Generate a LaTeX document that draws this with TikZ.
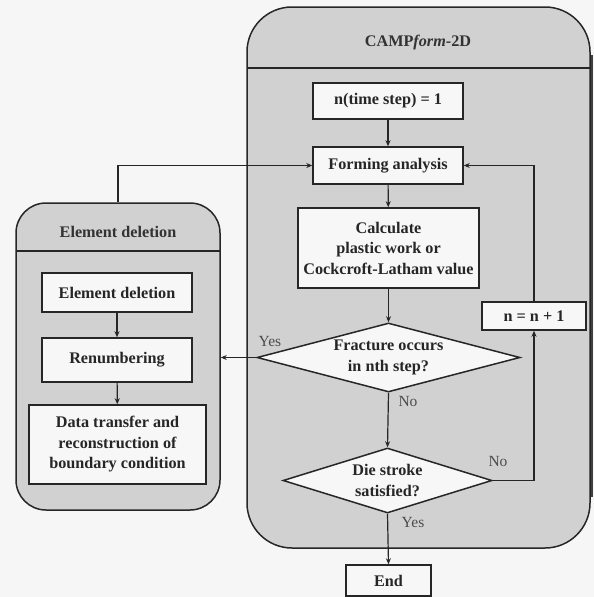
\documentclass[tikz,border=0pt]{standalone}
\usepackage{fontspec}
\setmainfont{Liberation Serif}
\usetikzlibrary{shapes.geometric,arrows.meta}
\definecolor{bgc}{rgb}{0.965,0.965,0.965}
\definecolor{contc}{rgb}{0.82,0.82,0.82}
\definecolor{boxc}{rgb}{0.97,0.97,0.97}
\definecolor{linec}{rgb}{0.15,0.15,0.15}
\definecolor{lblc}{rgb}{0.3,0.3,0.3}
\begin{document}
\begin{tikzpicture}[x=1pt,y=-1pt,
  cont/.style={draw=linec, line width=1.5pt, fill=contc, inner sep=0pt},
  box/.style={draw=linec, line width=1.5pt, fill=boxc, inner sep=0pt, align=center,
    font=\bfseries\fontsize{16.2}{20.5}\selectfont, text=black!85},
  dia/.style={diamond, draw=linec, line width=1.5pt, fill=boxc, inner sep=0pt, align=center,
    font=\bfseries\fontsize{16.2}{20.5}\selectfont, text=black!85},
  ttl/.style={font=\bfseries\fontsize{16.2}{20.5}\selectfont, text=black!80},
  lbl/.style={font=\fontsize{15.5}{18}\selectfont, text=lblc},
  conn/.style={draw=linec, line width=1.2pt},
  arr/.style={conn, -{Stealth[length=6pt,width=5pt]}}
]
\fill[bgc] (0,0) rectangle (594,597);
\useasboundingbox (0,0) rectangle (594,597);

% shadow on right edge of main container
\draw[line width=3pt, black!75] (591,55) -- (591,497);

% containers
\node[cont, rounded corners=45pt, minimum width=343pt, minimum height=541pt] (mainc) at (418.5,277.5) {};
\draw[linec, line width=1.5pt] (247,68) -- (590,68);
\node[ttl] (maint) at (418,43) {CAMP\textit{form}-2D};

\node[cont, rounded corners=30pt, minimum width=204pt, minimum height=307pt] (leftc) at (118,356.5) {};
\draw[linec, line width=1.5pt] (16,251) -- (220,251);
\node[ttl] (leftt) at (118,232) {Element deletion};

% main flow
\node[box, minimum width=150pt, minimum height=36pt] (n1) at (388,101) {n(time step) = 1};
\node[box, minimum width=150pt, minimum height=37pt] (fa) at (388,165.5) {Forming analysis};
\node[box, minimum width=181pt, minimum height=80pt] (calc) at (388.5,248) {Calculate\\plastic work or\\Cockcroft-Latham value};
\node[dia, shape aspect=3.8, minimum width=263pt, minimum height=69pt] (frac) at (388.5,357.5) {Fracture occurs\\in nth step?};
\node[dia, shape aspect=3.2, minimum width=209pt, minimum height=65pt] (die) at (387.5,480.5) {Die stroke\\satisfied?};
\node[box, minimum width=104pt, minimum height=28pt] (inc) at (534,316) {n = n + 1};
\node[box, minimum width=85pt, minimum height=31pt] (endb) at (388.5,580.5) {End};

% left flow
\node[box, minimum width=150pt, minimum height=39pt] (ed) at (117,292.5) {Element deletion};
\node[box, minimum width=150pt, minimum height=44pt] (ren) at (117,360) {Renumbering};
\node[box, minimum width=177pt, minimum height=79pt] (dt) at (117.5,444.5) {Data transfer and\\reconstruction of\\boundary condition};

% labels
\node[lbl] (lyes1) at (270,341) {Yes};
\node[lbl] (lno1) at (408,401) {No};
\node[lbl] (lno2) at (498,461) {No};
\node[lbl] (lyes2) at (413,522) {Yes};

% connectors
\draw[arr] (n1) -- (fa);
\draw[arr] (fa) -- (calc);
\draw[arr] (calc) -- (frac);
\draw[arr] (frac.south) -- (die.north);
\draw[arr] (die.south) -- (endb.north);
\draw[arr] (die.east) -- (inc.south |- die.east) -- (inc.south);
\draw[arr] (inc.north) -- (inc.north |- fa.east) -- (fa.east);
\draw[arr] (frac.west) -- (leftc.east |- frac.west);
\draw[arr] (leftc.north) -- (leftc.north |- fa.west) -- (fa.west);
\draw[arr] (ed) -- (ren);
\draw[arr] (ren) -- (dt);
\end{tikzpicture}
\end{document}
